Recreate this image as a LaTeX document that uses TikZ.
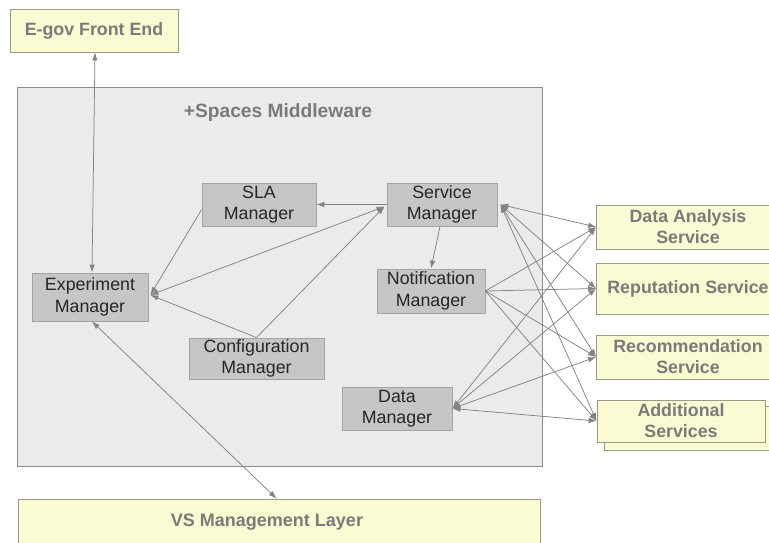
\documentclass[tikz,border=0pt]{standalone}
\usepackage{fontspec}
\setmainfont{Liberation Sans}
\usetikzlibrary{arrows.meta}
\definecolor{layerfill}{HTML}{FBFBD3}
\definecolor{layerdraw}{HTML}{9A9A88}
\definecolor{mwfill}{HTML}{EBEBEB}
\definecolor{mwdraw}{HTML}{8C8C8C}
\definecolor{mgrfill}{HTML}{C6C6C6}
\definecolor{mgrdraw}{HTML}{A3A3A3}
\definecolor{mgrtext}{HTML}{262626}
\definecolor{labelgray}{HTML}{7A7A7A}
\definecolor{wire}{HTML}{838383}

\begin{document}
\begin{tikzpicture}[x=1pt,y=-1pt,
  layer/.style={draw=layerdraw, fill=layerfill, line width=0.8pt, inner sep=0pt,
    font=\fontsize{17.8}{21}\selectfont\bfseries, text=labelgray, align=center},
  mgr/.style={draw=mgrdraw, fill=mgrfill, line width=0.8pt, inner sep=0pt,
    font=\fontsize{17.8}{21.5}\selectfont, text=mgrtext, align=center},
  tip/.style={-{Latex[length=8pt,width=5.5pt]}},
  link/.style={draw=wire, line width=0.75pt, tip},
  both/.style={draw=wire, line width=0.75pt, {Latex[length=8pt,width=5.5pt]}-{Latex[length=8pt,width=5.5pt]}},
]
\useasboundingbox (0,0) rectangle (769,542);
\fill[white] (0,0) rectangle (769,542);

% middleware container
\node[draw=mwdraw, fill=mwfill, line width=0.8pt, inner sep=0pt,
      minimum width=525pt, minimum height=379pt] (mw) at (279.5,276.5) {};
\node[font=\fontsize{19.2}{22}\selectfont\bfseries, text=labelgray] (mwtitle) at (278,113) {+Spaces Middleware};

% outer layers
\node[layer, minimum width=168pt, minimum height=43pt] (egov) at (94,30.5) {E-gov Front End};
\node[layer, minimum width=522pt, minimum height=61pt] (vs) at (279,529.5) {};
\node[font=\fontsize{18}{22}\selectfont\bfseries, text=labelgray] (vstext) at (267,522) {VS Management Layer};

% services
\node[layer, minimum width=183pt, minimum height=44pt] (da) at (688,227) {Data Analysis\\Service};
\node[layer, minimum width=183pt, minimum height=51pt] (rep) at (688,288.5) {Reputation Service};
\node[layer, minimum width=183pt, minimum height=44pt] (rec) at (688,357) {Recommendation\\Service};
\node[layer, minimum width=176pt, minimum height=44pt] (addback) at (692,428) {};
\node[layer, minimum width=168pt, minimum height=42pt] (add) at (681,421) {Additional\\Services};

% managers
\node[mgr, minimum width=114pt, minimum height=43pt] (sla) at (259,204.5) {SLA\\Manager};
\node[mgr, minimum width=110pt, minimum height=43pt] (serv) at (442,204.5) {Service\\Manager};
\node[mgr, minimum width=108pt, minimum height=44pt] (notif) at (431,291) {Notification\\Manager};
\node[mgr, minimum width=116pt, minimum height=48pt] (exp) at (90,297) {Experiment\\Manager};
\node[mgr, minimum width=135pt, minimum height=41pt] (cfg) at (256.5,358.5) {Configuration\\Manager};
\node[mgr, minimum width=110pt, minimum height=43pt] (data) at (397,408.5) {Data\\Manager};

% junction points on box edges
\coordinate (exptip) at ([xshift=2pt,yshift=2pt]exp.east);
\coordinate (servin) at ([xshift=-2pt,yshift=-2pt]serv.west);
\coordinate (servout) at ([xshift=3pt]serv.east);

% connectors
\draw[both] ([xshift=1pt]egov.south) -- ([xshift=2pt]exp.north);
\draw[both] ([xshift=2pt]exp.south) -- ([xshift=259pt]vs.north west);
\draw[link] ([yshift=-5pt]sla.west) -- (exptip);
\draw[both] (exptip) -- (servin);
\draw[link] (cfg.north) -- (exptip);
\draw[link] (cfg.north) -- (servin);
\draw[link] (serv.west) -- (sla.east);
\draw[link] ([xshift=-2pt]serv.south) -- (notif.north);
\foreach \s in {da,rep,rec,add}{
  \draw[both] (servout) -- (\s.west);
  \draw[link] (notif.east) -- (\s.west);
  \draw[both] (data.east) -- (\s.west);
}
\end{tikzpicture}
\end{document}
